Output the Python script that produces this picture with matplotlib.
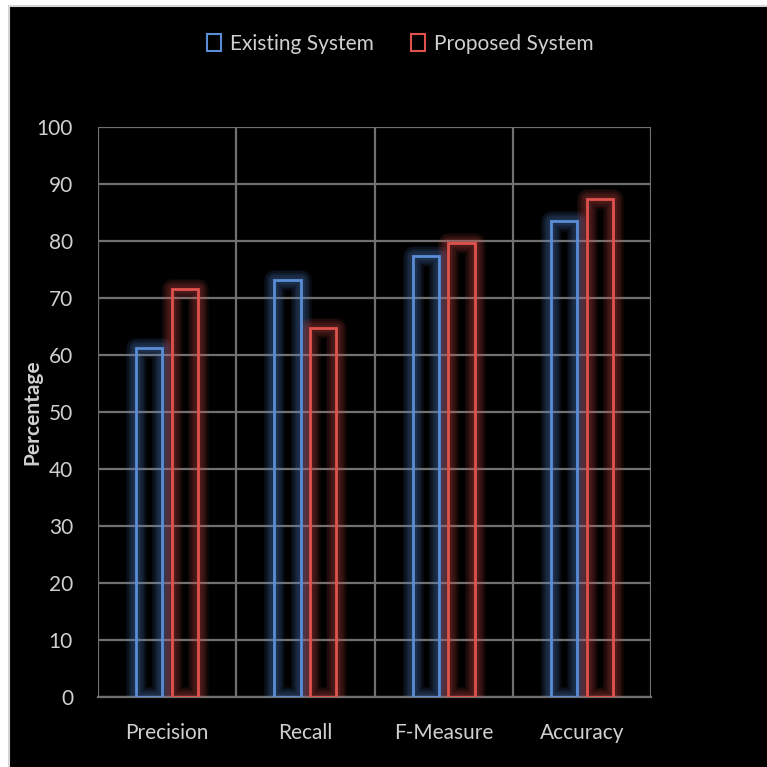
import matplotlib
matplotlib.use("Agg")
import matplotlib.pyplot as plt
from matplotlib.patches import Rectangle, Patch
import numpy as np

categories = ["Precision", "Recall", "F-Measure", "Accuracy"]
existing = [61.2, 73.2, 77.4, 83.5]
proposed = [71.6, 64.7, 79.6, 87.4]
series_names = ["Existing System", "Proposed System"]
yticks = [0, 10, 20, 30, 40, 50, 60, 70, 80, 90, 100]

plt.rcParams['font.family'] = ['Lato', 'DejaVu Sans']
TXT = '#d0d0d0'
BLUE = '#5b8dd6'
RED = '#e0524e'
GRID = '#707070'

W = 767
fig = plt.figure(figsize=(W / 100, W / 100), dpi=100, facecolor='white')
bg = Rectangle((9 / W, -0.01), 1.0, 1 - 6 / W + 0.01, transform=fig.transFigure,
               facecolor='black', edgecolor='#d4d4d4', linewidth=1.5, zorder=-10)
fig.patches.append(bg)

ax = fig.add_axes([98 / W, 70 / W, 553 / W, 570 / W])
ax.set_facecolor('black')
ax.set_xlim(-0.5, 3.5)
ax.set_ylim(0, 100)

x = np.arange(len(categories))
bw = 0.19
off = 0.13
glow_widths = [15, 13, 11, 9, 7, 5]
for vals, xs, col in [(existing, x - off, BLUE), (proposed, x + off, RED)]:
    for lw in glow_widths:
        ax.bar(xs, vals, width=bw, fill=False, edgecolor=col, linewidth=lw,
               alpha=0.07, zorder=3, joinstyle='round')
    ax.bar(xs, vals, width=bw, fill=False, edgecolor=col, linewidth=2, zorder=4)

ax.set_yticks(yticks)
ax.set_xticks(x)
ax.set_xticklabels(categories)
ax.set_xticks(np.arange(-0.5, 4, 1), minor=True)
ax.grid(axis='y', which='major', color=GRID, linewidth=1.6, zorder=1)
ax.grid(axis='x', which='minor', color=GRID, linewidth=1.6, zorder=1)
ax.tick_params(axis='both', which='both', length=0, colors=TXT, labelsize=15)
ax.tick_params(axis='y', pad=18)
ax.tick_params(axis='x', pad=19)
for s in ['top', 'right', 'left']:
    ax.spines[s].set_visible(False)
ax.spines['bottom'].set_color(GRID)
ax.spines['bottom'].set_linewidth(1.6)

fig.text(32 / W, 1 - 412 / W, "Percentage", rotation=90, ha='center', va='center',
         color=TXT, fontsize=15, fontweight='bold')

handles = [Patch(facecolor='none', edgecolor=BLUE, linewidth=1.5),
           Patch(facecolor='none', edgecolor=RED, linewidth=1.5)]
leg = fig.legend(handles, series_names, loc='center', bbox_to_anchor=(400 / W, 1 - 44 / W),
                 ncol=2, frameon=False, fontsize=15, handlelength=0.7, handleheight=0.9,
                 handletextpad=0.4, columnspacing=1.8)
for t in leg.get_texts():
    t.set_color(TXT)

fig.savefig("out.png", dpi=100, facecolor='white')
